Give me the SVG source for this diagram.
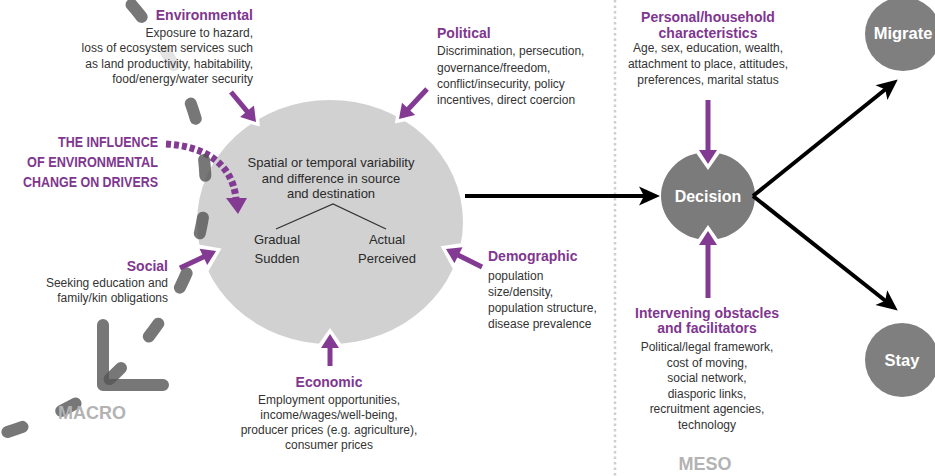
<svg xmlns="http://www.w3.org/2000/svg" width="935" height="476" viewBox="0 0 935 476">
<defs>
<style>
text{font-family:"Liberation Sans",Arial,Helvetica,sans-serif;}
.t{font-size:14px;font-weight:bold;fill:#80368f;}
.b{font-size:12px;fill:#333;}
.c{font-size:13px;fill:#2a2a2a;}
.w{font-weight:bold;fill:#fff;text-anchor:middle;}
.lv{font-size:18px;font-weight:bold;fill:#b3b3b3;}
.e{text-anchor:end;}
.m{text-anchor:middle;}
.pa{fill:none;stroke:#833a93;stroke-width:5;marker-end:url(#ph);}
.nt{fill:none;stroke:none;marker-end:url(#nw);}
.ba{fill:none;stroke:#000;stroke-width:4;marker-end:url(#bh);}
.gd{fill:none;stroke:#555;stroke-opacity:0.8;stroke-width:12;stroke-linecap:round;stroke-linejoin:round;}
</style>
<marker id="ph" markerUnits="userSpaceOnUse" markerWidth="20" markerHeight="20" refX="3" refY="8" orient="auto" overflow="visible"><path d="M0,-1 L14,8 L0,17 z" fill="#833a93"/></marker>
<marker id="nw" markerUnits="userSpaceOnUse" markerWidth="20" markerHeight="20" refX="3" refY="8" orient="auto" overflow="visible"><path d="M20,8 L-20,-20 L-20,36 z" fill="#fff"/></marker>
<marker id="bh" markerUnits="userSpaceOnUse" markerWidth="22" markerHeight="20" refX="6" refY="9.5" orient="auto" overflow="visible"><path d="M0,0 L21,9.5 L0,19 L5,9.5 z" fill="#000"/></marker>
</defs>
<rect width="935" height="476" fill="#fff"/>
<line x1="615" y1="0" x2="615" y2="476" stroke="#cfcfcf" stroke-width="2.5" stroke-dasharray="2.5 3"/>

<g id="drivers">
<ellipse cx="330" cy="222" rx="133" ry="122" fill="#d1d1d1"/>
<text class="c m"><tspan x="331" y="167">Spatial or temporal variability</tspan><tspan x="331" y="183">and difference in source</tspan><tspan x="331" y="198">and destination</tspan></text>
<path d="M276,229 L333,204 L386,229" fill="none" stroke="#333" stroke-width="1.3"/>
<text class="c m"><tspan x="277" y="244">Gradual</tspan><tspan x="277" y="263">Sudden</tspan></text>
<text class="c m"><tspan x="387" y="244">Actual</tspan><tspan x="387" y="263">Perceived</tspan></text>
</g>

<g id="decision">
<ellipse cx="708" cy="196" rx="47" ry="44" fill="#7b7b7b"/>
<text class="w" x="708" y="202" font-size="16">Decision</text>
</g>
<g id="migrate">
<ellipse cx="903" cy="34" rx="38" ry="37" fill="#7f7f7f"/>
<text class="w" x="903" y="39" font-size="16.5">Migrate</text>
</g>
<g id="stay">
<ellipse cx="902" cy="360" rx="37" ry="37" fill="#7f7f7f"/>
<text class="w" x="902" y="366" font-size="16.5">Stay</text>
</g>

<g id="connectors">
<line class="nt" x1="231" y1="92" x2="248.96" y2="113.55"/>
<line class="nt" x1="427" y1="89" x2="406.5" y2="110.96"/>
<line class="nt" x1="180" y1="268" x2="206.1" y2="255.7"/>
<line class="nt" x1="482" y1="267" x2="455.8" y2="253.9"/>
<line class="nt" x1="330" y1="366" x2="330" y2="345"/>
<line class="nt" x1="708" y1="100" x2="708" y2="153"/>
<line class="nt" x1="708" y1="298" x2="708" y2="242"/>
<path d="M166,144 C200,146 232,160 236,199" fill="none" stroke="#833a93" stroke-width="7" stroke-dasharray="5 3"/>
<polygon points="226,198 247,198 238,214" fill="#833a93"/>
<path class="gd" stroke-dasharray="16 42" stroke-dashoffset="41" d="M120,-8 C180,55 210,130 205,200 C200,265 165,330 103,385 C80,405 40,422 -5,436"/>
<path class="gd" d="M103,325 L103,385 L163,385"/>
<line class="pa" x1="231" y1="92" x2="248.96" y2="113.55"/>
<line class="pa" x1="427" y1="89" x2="406.5" y2="110.96"/>
<line class="pa" x1="180" y1="268" x2="206.1" y2="255.7"/>
<line class="pa" x1="482" y1="267" x2="455.8" y2="253.9"/>
<line class="pa" x1="330" y1="366" x2="330" y2="345"/>
<line class="pa" x1="708" y1="100" x2="708" y2="153"/>
<line class="pa" x1="708" y1="298" x2="708" y2="242"/>
<line class="ba" x1="465" y1="196" x2="645" y2="196"/>
<line class="ba" x1="753" y1="196" x2="886.1" y2="88.8"/>
<line class="ba" x1="753" y1="196" x2="886" y2="301.3"/>
</g>

<g id="environmental">
<rect x="72" y="24" width="184" height="64" fill="#fff" fill-opacity="0.8"/>
<text class="t e" x="253" y="20">Environmental</text>
<text class="b e"><tspan x="253" y="37">Exposure to hazard,</tspan><tspan x="253" y="52">loss of ecosystem services such</tspan><tspan x="253" y="68">as land productivity, habitability,</tspan><tspan x="253" y="83">food/energy/water security</tspan></text>
</g>
<g id="influence">
<text class="t" font-size="14"><tspan x="58" y="147" textLength="100" lengthAdjust="spacingAndGlyphs">THE INFLUENCE</tspan><tspan x="27" y="167" textLength="131" lengthAdjust="spacingAndGlyphs">OF ENVIRONMENTAL</tspan><tspan x="23" y="187" textLength="135" lengthAdjust="spacingAndGlyphs">CHANGE ON DRIVERS</tspan></text>
</g>
<g id="political">
<text class="t" x="437" y="38">Political</text>
<text class="b"><tspan x="437" y="55">Discrimination, persecution,</tspan><tspan x="437" y="71.5">governance/freedom,</tspan><tspan x="437" y="88">conflict/insecurity, policy</tspan><tspan x="437" y="104">incentives, direct coercion</tspan></text>
</g>
<g id="social">
<text class="t e" x="168" y="271">Social</text>
<text class="b e"><tspan x="168" y="287">Seeking education and</tspan><tspan x="168" y="302">family/kin obligations</tspan></text>
</g>
<g id="demographic">
<text class="t" x="488" y="261">Demographic</text>
<text class="b"><tspan x="488" y="280">population</tspan><tspan x="488" y="296">size/density,</tspan><tspan x="488" y="312">population structure,</tspan><tspan x="488" y="328">disease prevalence</tspan></text>
</g>
<g id="economic">
<text class="t m" x="329" y="387">Economic</text>
<text class="b m"><tspan x="329" y="404">Employment opportunities,</tspan><tspan x="329" y="419">income/wages/well-being,</tspan><tspan x="329" y="434">producer prices (e.g. agriculture),</tspan><tspan x="329" y="449">consumer prices</tspan></text>
</g>
<g id="personal">
<text class="t m"><tspan x="708" y="22">Personal/household</tspan><tspan x="708" y="38">characteristics</tspan></text>
<text class="b m"><tspan x="708" y="52">Age, sex, education, wealth,</tspan><tspan x="708" y="68">attachment to place, attitudes,</tspan><tspan x="708" y="84">preferences, marital status</tspan></text>
</g>
<g id="intervening">
<text class="t m"><tspan x="707" y="318">Intervening obstacles</tspan><tspan x="707" y="333">and facilitators</tspan></text>
<text class="b m"><tspan x="707" y="351">Political/legal framework,</tspan><tspan x="707" y="366.5">cost of moving,</tspan><tspan x="707" y="382">social network,</tspan><tspan x="707" y="397.5">diasporic links,</tspan><tspan x="707" y="413">recruitment agencies,</tspan><tspan x="707" y="429">technology</tspan></text>
</g>
<g id="levels">
<text class="lv" x="58" y="419">MACRO</text>
<text class="lv m" x="705" y="470" font-size="17">MESO</text>
</g>
</svg>
